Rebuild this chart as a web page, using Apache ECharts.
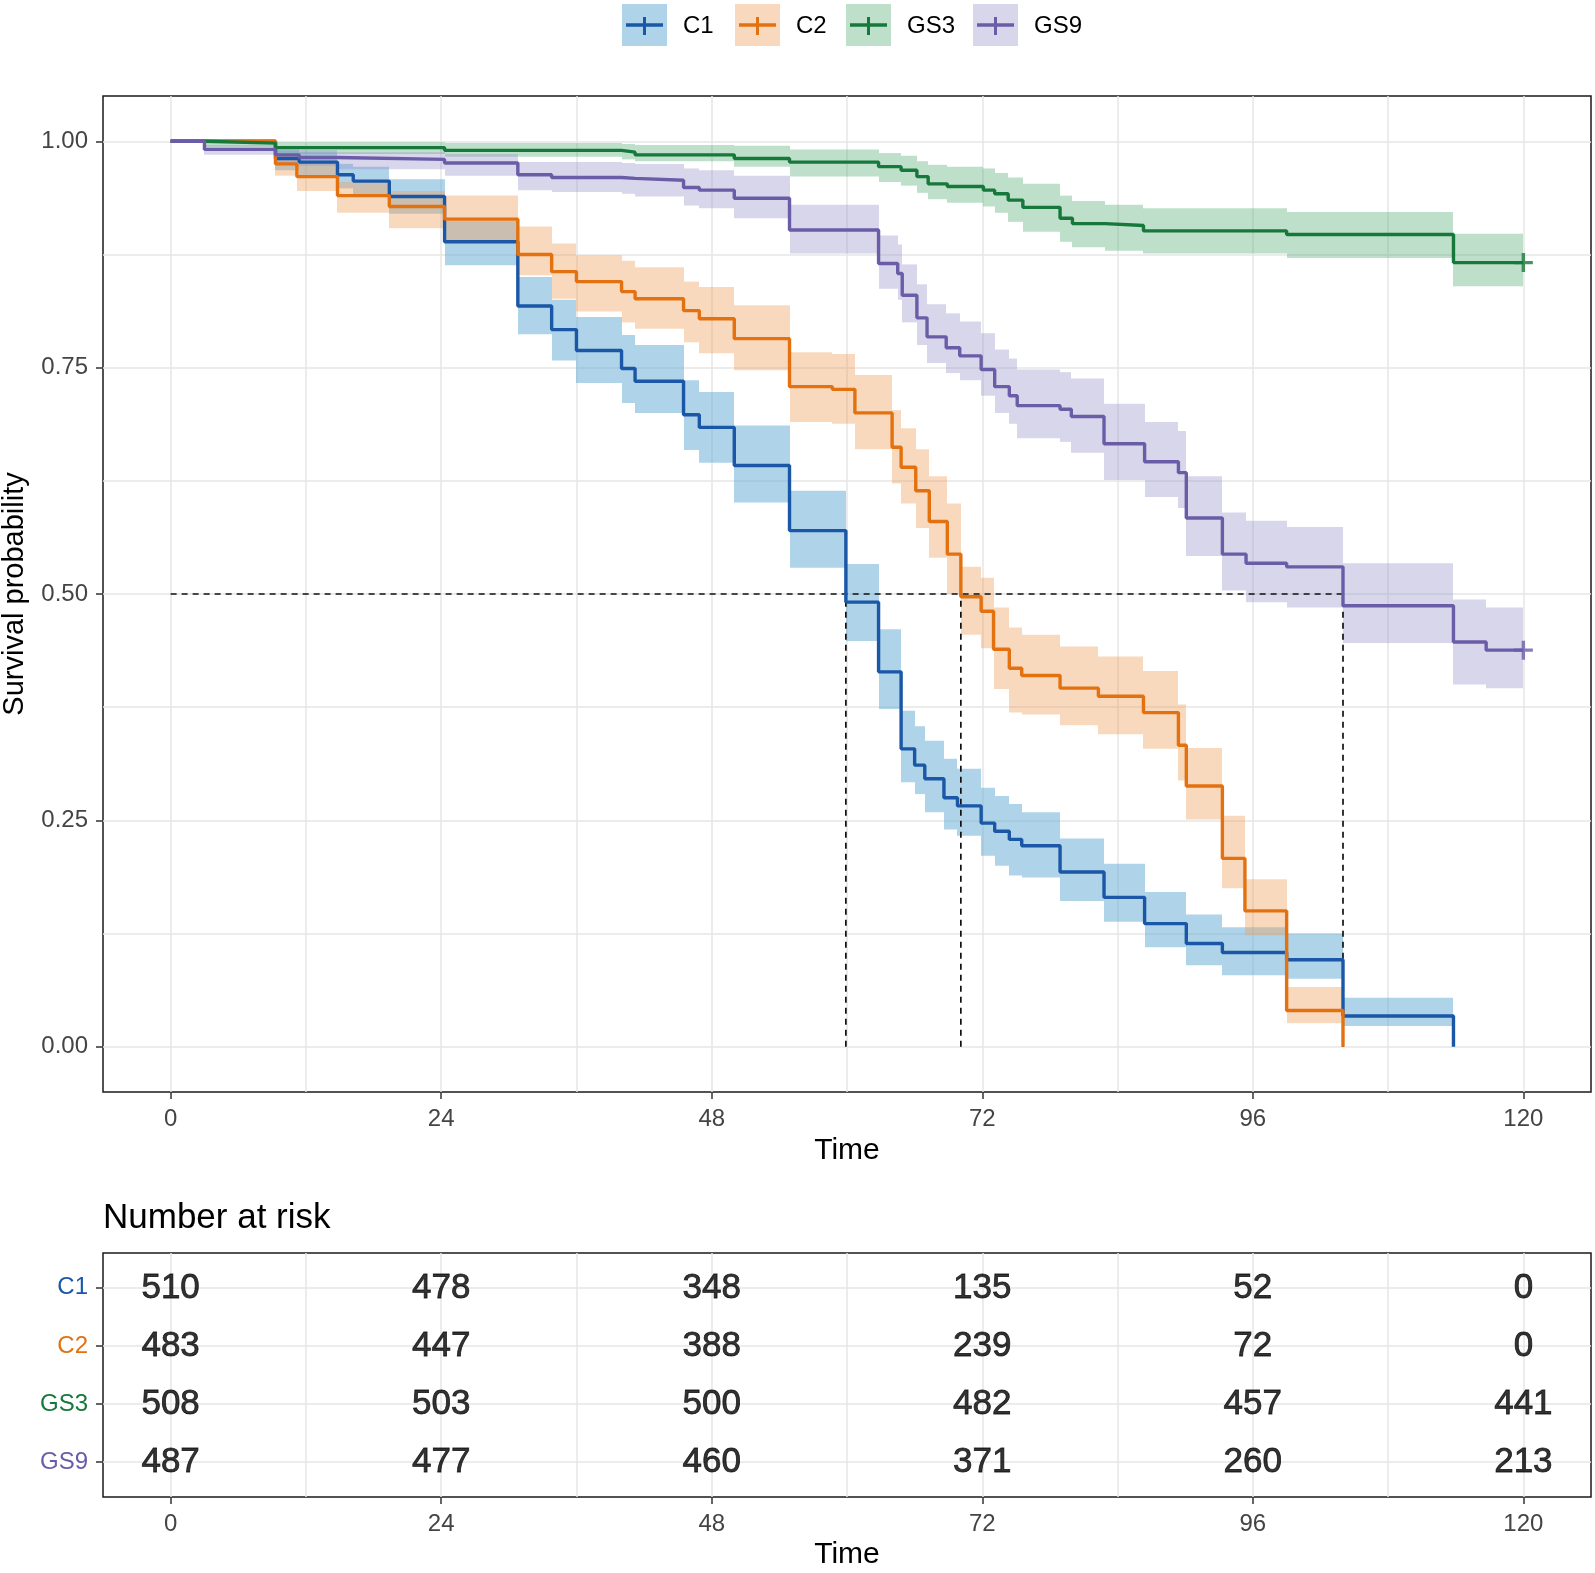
<!DOCTYPE html>
<html>
<head>
<meta charset="utf-8">
<title>Survival curves</title>
<script src="https://cdn.jsdelivr.net/npm/echarts@6/dist/echarts.min.js"></script>
<style>
  html, body { margin: 0; padding: 0; background: #fff; }
  #chart { width: 1595px; height: 1573px; }
</style>
</head>
<body>
<div id="chart"></div>
<script>
const groups = ['C1', 'C2', 'GS3', 'GS9']
const lineColors = ['#1a57a6', '#e3710f', '#16783a', '#6b5ca8']
const bandColors = ['rgba(110,175,215,0.55)', 'rgba(240,160,90,0.4)', 'rgba(80,170,110,0.37)', 'rgba(150,145,200,0.37)']

// C1
const c1Time = [0, 9.3, 11.4, 14.8, 16.2, 19.4, 24.3, 30.8, 33.8, 36, 40, 41.2, 45.5, 46.9, 50, 54.9, 59.9, 62.8, 64.8, 66, 66.9, 68.6, 69.8, 71.9, 73.1, 74.4, 75.5, 78.9, 82.8, 86.4, 90.1, 93.3, 99, 104, 113.8]
const c1Surv = [1, 0.981, 0.977, 0.963, 0.956, 0.939, 0.889, 0.818, 0.792, 0.769, 0.749, 0.735, 0.698, 0.684, 0.642, 0.570, 0.491, 0.414, 0.329, 0.311, 0.296, 0.275, 0.266, 0.247, 0.238, 0.229, 0.222, 0.193, 0.165, 0.136, 0.114, 0.104, 0.096, 0.034, 0]
const c1Upper = [1, 0.990, 0.988, 0.975, 0.972, 0.958, 0.912, 0.850, 0.825, 0.806, 0.786, 0.775, 0.736, 0.723, 0.686, 0.614, 0.533, 0.461, 0.371, 0.354, 0.338, 0.318, 0.307, 0.286, 0.277, 0.268, 0.259, 0.230, 0.202, 0.171, 0.146, 0.132, 0.125, 0.054, 0]
const c1Lower = [1, 0.968, 0.962, 0.948, 0.940, 0.920, 0.863, 0.787, 0.758, 0.733, 0.711, 0.700, 0.659, 0.645, 0.601, 0.529, 0.448, 0.373, 0.292, 0.279, 0.259, 0.240, 0.233, 0.211, 0.200, 0.189, 0.187, 0.161, 0.138, 0.110, 0.090, 0.079, 0.075, 0.023, 0]

// C2
const c2Time = [0, 9.3, 11.2, 14.8, 19.4, 24.3, 30.8, 33.8, 36, 40, 41.2, 45.5, 46.9, 50, 54.9, 58.7, 60.7, 64, 64.8, 66.1, 67.3, 68.9, 70.1, 71.9, 73, 74.4, 75.5, 78.9, 82.3, 86.3, 89.4, 90.1, 93.3, 95.3, 99, 104]
const c2Surv = [1, 0.975, 0.961, 0.940, 0.928, 0.914, 0.875, 0.856, 0.845, 0.834, 0.826, 0.813, 0.804, 0.782, 0.729, 0.726, 0.700, 0.662, 0.640, 0.614, 0.580, 0.544, 0.497, 0.481, 0.439, 0.418, 0.410, 0.396, 0.387, 0.369, 0.333, 0.288, 0.208, 0.150, 0.040, 0]
const c2Upper = [1, 0.984, 0.976, 0.955, 0.945, 0.940, 0.906, 0.887, 0.874, 0.868, 0.861, 0.845, 0.839, 0.819, 0.767, 0.765, 0.742, 0.703, 0.683, 0.660, 0.630, 0.600, 0.530, 0.518, 0.485, 0.463, 0.455, 0.442, 0.431, 0.415, 0.378, 0.330, 0.255, 0.185, 0.066, 0]
const c2Lower = [1, 0.962, 0.945, 0.921, 0.904, 0.891, 0.852, 0.826, 0.812, 0.800, 0.793, 0.778, 0.766, 0.747, 0.690, 0.688, 0.660, 0.622, 0.600, 0.573, 0.540, 0.500, 0.455, 0.440, 0.395, 0.369, 0.367, 0.355, 0.345, 0.329, 0.294, 0.251, 0.175, 0.123, 0.026, 0]

// GS3
const gs3Time = [0, 3, 9.3, 24.3, 40, 41.2, 50, 54.9, 62.8, 64.8, 66.2, 67.2, 68.9, 72.1, 73.1, 74.3, 75.6, 78.9, 80, 82.9, 86.3, 99, 113.8, 120]
const gs3Surv = [1, 0.998, 0.993, 0.990, 0.988, 0.985, 0.981, 0.977, 0.972, 0.968, 0.961, 0.953, 0.950, 0.946, 0.942, 0.935, 0.927, 0.915, 0.909, 0.907, 0.901, 0.897, 0.866, 0.866]
const gs3Upper = [1, 1, 0.999, 0.998, 0.997, 0.996, 0.995, 0.991, 0.987, 0.984, 0.978, 0.974, 0.972, 0.970, 0.965, 0.960, 0.953, 0.940, 0.934, 0.930, 0.926, 0.922, 0.898, 0.898]
const gs3Lower = [1, 0.994, 0.986, 0.983, 0.980, 0.978, 0.972, 0.961, 0.955, 0.951, 0.943, 0.936, 0.932, 0.928, 0.921, 0.911, 0.900, 0.889, 0.883, 0.879, 0.876, 0.871, 0.840, 0.840]

// GS9
const gs9Time = [0, 3, 9.3, 11.4, 14.8, 24.3, 30.8, 33.8, 40, 41.2, 45.5, 46.9, 50, 54.9, 62.8, 64.5, 64.9, 66.2, 67.1, 68.8, 70, 71.9, 73.1, 74.4, 75.1, 78.9, 79.9, 82.8, 86.4, 89.4, 90.1, 93.3, 95.4, 99, 104, 113.8, 116.7, 120]
const gs9Surv = [1, 0.991, 0.985, 0.982, 0.980, 0.976, 0.963, 0.960, 0.959, 0.957, 0.949, 0.946, 0.937, 0.902, 0.865, 0.854, 0.830, 0.805, 0.784, 0.772, 0.763, 0.748, 0.729, 0.719, 0.708, 0.704, 0.696, 0.666, 0.646, 0.634, 0.584, 0.544, 0.534, 0.530, 0.487, 0.447, 0.438, 0.438]
const gs9Upper = [1, 0.996, 0.991, 0.990, 0.988, 0.986, 0.977, 0.977, 0.976, 0.975, 0.970, 0.968, 0.962, 0.930, 0.896, 0.886, 0.864, 0.842, 0.820, 0.810, 0.801, 0.788, 0.770, 0.760, 0.748, 0.745, 0.738, 0.710, 0.690, 0.680, 0.630, 0.590, 0.581, 0.574, 0.534, 0.494, 0.485, 0.485]
const gs9Lower = [1, 0.985, 0.976, 0.973, 0.969, 0.962, 0.946, 0.944, 0.942, 0.939, 0.929, 0.926, 0.915, 0.876, 0.837, 0.825, 0.800, 0.775, 0.755, 0.744, 0.736, 0.719, 0.700, 0.688, 0.672, 0.668, 0.656, 0.626, 0.607, 0.595, 0.542, 0.504, 0.491, 0.485, 0.446, 0.400, 0.396, 0.396]

// number at risk
const riskTimes = [0, 24, 48, 72, 96, 120]
const riskC1 = [510, 478, 348, 135, 52, 0]
const riskC2 = [483, 447, 388, 239, 72, 0]
const riskGS3 = [508, 503, 500, 482, 457, 441]
const riskGS9 = [487, 477, 460, 371, 260, 213]

// median survival times (dashed guides)
const medianTimes = [59.9, 70.1, 104]

const xTicks = [0, 24, 48, 72, 96, 120]
const xGrid = [0, 12, 24, 36, 48, 60, 72, 84, 96, 108, 120]
const yTicks = [0, 0.25, 0.5, 0.75, 1]
const yGrid = [0, 0.125, 0.25, 0.375, 0.5, 0.625, 0.75, 0.875, 1]

const curves = [
    { time: c1Time, surv: c1Surv, upper: c1Upper, lower: c1Lower },
    { time: c2Time, surv: c2Surv, upper: c2Upper, lower: c2Lower },
    { time: gs3Time, surv: gs3Surv, upper: gs3Upper, lower: gs3Lower },
    { time: gs9Time, surv: gs9Surv, upper: gs9Upper, lower: gs9Lower }
]
const risks = [riskC1, riskC2, riskGS3, riskGS9]
const censored = [false, false, true, true]

const FONT = '"Liberation Sans", Arial, Helvetica, sans-serif'
const gridColor = '#e6e6e6'
const tickColor = '#333'
const labelColor = '#444'

const series = []

// confidence bands: one rect per step interval
curves.forEach((c, i) => {
    const data = []
    for (let k = 0; k < c.time.length - 1; k++) {
        if (c.upper[k] > c.lower[k]) data.push([c.time[k], c.time[k + 1], c.lower[k], c.upper[k]])
    }
    series.push({
        type: 'custom',
        xAxisIndex: 0,
        yAxisIndex: 0,
        encode: { x: [0, 1], y: [2, 3] },
        data,
        silent: true,
        z: 1,
        renderItem: (params, api) => {
            const p0 = api.coord([api.value(0), api.value(3)])
            const p1 = api.coord([api.value(1), api.value(2)])
            const x0 = Math.round(p0[0])
            const x1 = Math.round(p1[0])
            return {
                type: 'rect',
                shape: { x: x0, y: p0[1], width: x1 - x0, height: p1[1] - p0[1] },
                style: { fill: bandColors[i] }
            }
        }
    })
})

// median guides
const maxMedian = Math.max(...medianTimes)
const guideSegments = [[[0, 0.5], [maxMedian, 0.5]]].concat(medianTimes.map(m => [[m, 0], [m, 0.5]]))
guideSegments.forEach(seg => {
    series.push({
        type: 'line',
        xAxisIndex: 0,
        yAxisIndex: 0,
        data: seg,
        symbol: 'none',
        lineStyle: { color: '#111', width: 1.7, type: [6, 5] },
        silent: true,
        z: 2
    })
})

// survival curves
curves.forEach((c, i) => {
    series.push({
        type: 'line',
        name: groups[i],
        step: 'end',
        xAxisIndex: 0,
        yAxisIndex: 0,
        data: c.time.map((t, k) => [t, c.surv[k]]),
        symbol: 'none',
        lineStyle: { color: lineColors[i], width: 3.4 },
        silent: true,
        z: 3
    })
})

// censor marks at the end of follow-up
const plusPath = 'path://M8.2,0h3.6v20h-3.6z M0,8.2h20v3.6h-20z'
curves.forEach((c, i) => {
    if (!censored[i]) return
    const n = c.time.length - 1
    series.push({
        type: 'scatter',
        xAxisIndex: 0,
        yAxisIndex: 0,
        data: [[c.time[n], c.surv[n]]],
        symbol: plusPath,
        symbolSize: 19,
        itemStyle: { color: lineColors[i] },
        silent: true,
        z: 4
    })
})

// risk table numbers
series.push({
    type: 'scatter',
    xAxisIndex: 2,
    yAxisIndex: 2,
    data: risks.flatMap((r, i) => r.map((n, k) => [riskTimes[k], i, n])),
    symbolSize: 1,
    itemStyle: { color: 'rgba(0,0,0,0)' },
    label: {
        show: true,
        position: 'inside',
        formatter: p => p.value[2],
        fontSize: 35,
        fontFamily: FONT,
        color: '#000',
        textBorderColor: '#000',
        textBorderWidth: 0.8
    },
    silent: true,
    z: 5
})

const valueX = (gridIndex, extra) => Object.assign({
    type: 'value',
    gridIndex,
    min: -6,
    max: 126,
    axisLine: { show: false, onZero: false }
}, extra)

const xAxis = [
    valueX(0, {
        axisTick: { customValues: xTicks, length: 7, lineStyle: { color: tickColor, width: 1.5 } },
        axisLabel: { customValues: xTicks, fontSize: 24, color: labelColor, margin: 15, fontFamily: FONT },
        splitLine: { show: false },
        name: 'Time',
        nameLocation: 'middle',
        nameGap: 44,
        nameTextStyle: { fontSize: 30, color: '#000', fontFamily: FONT }
    }),
    valueX(0, {
        axisTick: { show: false, customValues: xGrid },
        axisLabel: { show: false },
        splitLine: { show: true, lineStyle: { color: gridColor, width: 1.5 } }
    }),
    valueX(1, {
        axisTick: { customValues: xTicks, length: 7, lineStyle: { color: tickColor, width: 1.5 } },
        axisLabel: { customValues: xTicks, fontSize: 24, color: labelColor, margin: 15, fontFamily: FONT },
        splitLine: { show: false },
        name: 'Time',
        nameLocation: 'middle',
        nameGap: 43,
        nameTextStyle: { fontSize: 30, color: '#000', fontFamily: FONT }
    }),
    valueX(1, {
        axisTick: { show: false, customValues: xGrid },
        axisLabel: { show: false },
        splitLine: { show: true, lineStyle: { color: gridColor, width: 1.5 } }
    })
]

const yAxis = [
    {
        type: 'value',
        gridIndex: 0,
        min: -0.05,
        max: 1.05,
        axisLine: { show: false, onZero: false },
        axisTick: { customValues: yTicks, length: 7, lineStyle: { color: tickColor, width: 1.5 } },
        axisLabel: { customValues: yTicks, formatter: v => Number(v).toFixed(2), fontSize: 24, color: labelColor, margin: 15, fontFamily: FONT },
        splitLine: { show: false },
        name: 'Survival probability',
        nameLocation: 'middle',
        nameGap: 74,
        nameTextStyle: { fontSize: 29, color: '#000', fontFamily: FONT }
    },
    {
        type: 'value',
        gridIndex: 0,
        position: 'left',
        min: -0.05,
        max: 1.05,
        axisLine: { show: false, onZero: false },
        axisTick: { show: false, customValues: yGrid },
        axisLabel: { show: false },
        splitLine: { show: true, lineStyle: { color: gridColor, width: 1.5 } }
    },
    {
        type: 'value',
        gridIndex: 1,
        min: -0.6,
        max: 3.6,
        inverse: true,
        axisLine: { show: false, onZero: false },
        axisTick: { customValues: [0, 1, 2, 3], length: 7, lineStyle: { color: tickColor, width: 1.5 } },
        axisLabel: {
            customValues: [0, 1, 2, 3],
            formatter: v => groups[Number(v)],
            color: v => lineColors[Number(v)],
            fontSize: 24,
            margin: 15,
            fontFamily: FONT
        },
        splitLine: { show: true, lineStyle: { color: gridColor, width: 1.5 } }
    }
]

// legend drawn as graphic keys
const legendX = [622, 735, 846, 973]
const legendGraphics = []
groups.forEach((g, i) => {
    const x = legendX[i]
    legendGraphics.push(
        { type: 'rect', shape: { x, y: 4, width: 45, height: 42 }, style: { fill: bandColors[i] } },
        { type: 'line', shape: { x1: x + 4, y1: 25, x2: x + 41, y2: 25 }, style: { stroke: lineColors[i], lineWidth: 3.4 } },
        { type: 'line', shape: { x1: x + 22.5, y1: 17, x2: x + 22.5, y2: 35 }, style: { stroke: lineColors[i], lineWidth: 3 } },
        { type: 'text', x: x + 61, y: 26, style: { text: g, fill: '#000', font: '24px ' + FONT, verticalAlign: 'middle' } }
    )
})
legendGraphics.push({
    type: 'text', x: 103, y: 1218,
    style: { text: 'Number at risk', fill: '#000', font: '35px ' + FONT, verticalAlign: 'middle' }
})

const chart = echarts.init(document.getElementById('chart'), null, { renderer: 'canvas' })
chart.setOption({
    animation: false,
    backgroundColor: '#fff',
    textStyle: { fontFamily: FONT },
    grid: [
        { left: 103, top: 96, width: 1488, height: 996, show: true, borderColor: '#1a1a1a', borderWidth: 1.5, backgroundColor: 'transparent', outerBoundsMode: 'none' },
        { left: 103, top: 1253, width: 1488, height: 244, show: true, borderColor: '#1a1a1a', borderWidth: 1.5, backgroundColor: 'transparent', outerBoundsMode: 'none' }
    ],
    xAxis,
    yAxis,
    graphic: legendGraphics,
    series
})
</script>
</body>
</html>
